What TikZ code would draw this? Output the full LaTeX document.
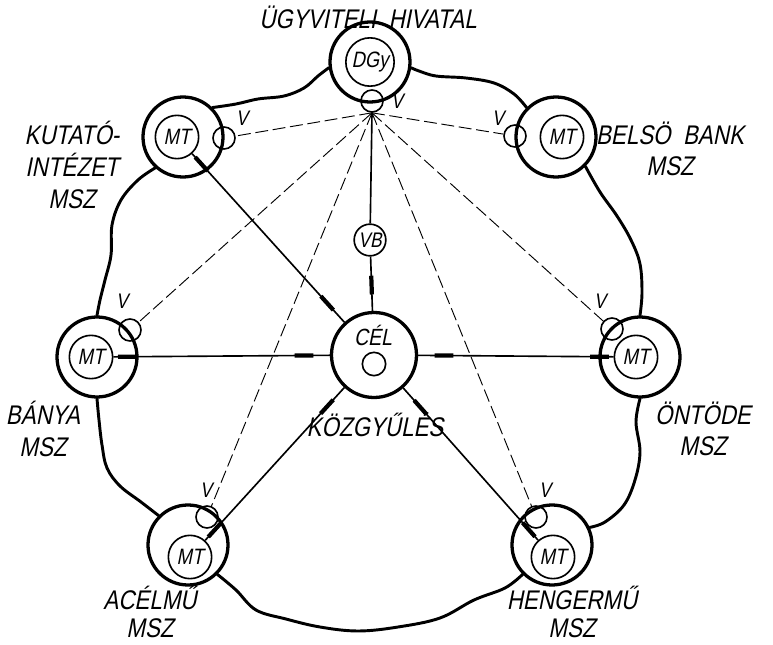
\documentclass[tikz,border=0pt]{standalone}
\usepackage{fontspec}
\newfontfamily\lettering[FakeSlant=0.2, FakeStretch=0.83]{Liberation Sans}
\usetikzlibrary{decorations.markings}

\begin{document}
\begin{tikzpicture}[
    x=0.03cm, y=-0.03cm,
    plant/.style={draw, circle, line width=2.8pt, minimum size=2.4cm, inner sep=0pt},
    core/.style={draw, circle, line width=1.4pt, minimum size=1.3cm, inner sep=0pt, font=\lettering\fontsize{19}{22}\selectfont},
    valve/.style={draw, circle, line width=1.4pt, minimum size=0.66cm, inner sep=0pt},
    tag/.style={font=\lettering\fontsize{18}{20}\selectfont, inner sep=0pt},
    caption/.style={font=\lettering\fontsize{23}{27}\selectfont, align=center, inner sep=0pt},
    border/.style={line width=2.5pt, line cap=round, line join=round},
    link/.style={line width=1.4pt},
    control/.style={dash pattern=on 11pt off 4pt, line width=0.8pt},
    bothmarks/.style={postaction={decorate, decoration={markings,
        mark=at position 4pt with {\draw[line width=3.6pt] (0,0) -- (16pt,0);},
        mark=at position -30pt with {\draw[line width=3.6pt] (0,0) -- (16pt,0);}}}},
    endmark/.style={postaction={decorate, decoration={markings,
        mark=at position -30pt with {\draw[line width=3.6pt] (0,0) -- (16pt,0);}}}},
]
    \useasboundingbox (0,0) rectangle (773,645);

    % Units
    \node[plant] (dgy) at (370,62) {};
    \node[plant] (kut) at (183,137) {};
    \node[plant] (bel) at (556,137) {};
    \node[plant] (ban) at (97,357) {};
    \node[plant] (ont) at (640,357) {};
    \node[plant] (ace) at (188,545) {};
    \node[plant] (hen) at (552,545) {};
    \node[plant, minimum size=2.55cm] (cel) at (374,355) {};

    \node[core, minimum size=1.45cm] (dgyin) at (370,62) {DGy};
    \node[core] (kutin) at (177,137) {MT};
    \node[core] (belin) at (562,137) {MT};
    \node[core] (banin) at (91,357) {MT};
    \node[core] (ontin) at (636,357) {MT};
    \node[core] (acein) at (190,557) {MT};
    \node[core] (henin) at (553,557) {MT};
    \node[valve, minimum size=0.7cm] (celin) at (374,364) {};
    \node[tag, font=\lettering\fontsize{20}{22}\selectfont] (celtext) at (373,335) {CÉL};
    \node[valve, minimum size=0.95cm, font=\lettering\fontsize{18}{20}\selectfont] (vb) at (370,240) {VB};

    % Valves
    \node[valve] (vdgy) at (372,101) {};
    \node[valve] (vkut) at (224,138) {};
    \node[valve] (vbel) at (515,136) {};
    \node[valve] (vban) at (130,330) {};
    \node[valve] (vont) at (612,329) {};
    \node[valve] (vace) at (207,517) {};
    \node[valve] (vhen) at (536,517) {};
    \coordinate (hub) at (vdgy.south);

    \node[tag] (ldgy) at (397,101) {V};
    \node[tag] (lkut) at (242,118) {V};
    \node[tag] (lbel) at (498,118) {V};
    \node[tag] (lban) at (122,301) {V};
    \node[tag] (lont) at (600,301) {V};
    \node[tag] (lace) at (206,490) {V};
    \node[tag] (lhen) at (545,490) {V};

    % Boundary
    \draw[border] plot[smooth, tension=0.6] coordinates {(dgy.188) (318,76) (304,88) (284,96) (258,99) (236,104) (kut.45)};
    \draw[border] plot[smooth, tension=0.6] coordinates {(kut.228) (138,180) (121,200) (112,225) (111,255) (105,280) (100,300) (ban.90)};
    \draw[border] plot[smooth, tension=0.6] coordinates {(ban.270) (99,420) (102,445) (107,468) (120,486) (141,502) (ace.135)};
    \draw[border] plot[smooth, tension=0.6] coordinates {(ace.315) (236,590) (256,610) (286,619) (320,627) (358,631) (398,627) (440,618) (474,600) (505,588) (hen.225)};
    \draw[border] plot[smooth, tension=0.6] coordinates {(hen.25) (605,522) (624,505) (635,480) (640,452) (636,422) (ont.270)};
    \draw[border] plot[smooth, tension=0.6] coordinates {(ont.90) (642,293) (640,264) (631,240) (617,216) (600,192) (bel.315)};
    \draw[border] plot[smooth, tension=0.6] coordinates {(bel.135) (514,94) (494,83) (466,78) (436,76) (419,71) (dgy.352)};

    % Control lines
    \draw[control] (hub) -- (vkut);
    \draw[control] (hub) -- (vbel);
    \draw[control] (hub) -- (vban);
    \draw[control] (hub) -- (vont);
    \draw[control] (hub) -- (vace);
    \draw[control] (hub) -- (vhen);

    % Links
    \draw[link] (hub) -- (vb);
    \draw[link, endmark] (vb) -- (cel);
    \draw[link, bothmarks] (kutin) -- (cel);
    \draw[link, bothmarks] (banin) -- (cel);
    \draw[link, bothmarks] (ontin) -- (cel);
    \draw[link, bothmarks] (acein) -- (cel);
    \draw[link, bothmarks] (henin) -- (cel);

    % Labels
    \node[caption] (title) at (368,17) {ÜGYVITELI\ \ HIVATAL};
    \node[caption] (kutlabel) at (72,165) {KUTATÓ-\\INTÉZET\\MSZ};
    \node[caption] (bellabel) at (670,149) {BELSÖ\ \ BANK\\MSZ};
    \node[caption] (banlabel) at (43,429) {BÁNYA\\MSZ};
    \node[caption] (ontlabel) at (703,429) {ÖNTÖDE\\MSZ};
    \node[caption] (kozlabel) at (375,425) {KÖZGYŰLÉS};
    \node[caption, font=\lettering\fontsize{23}{24}\selectfont] (acelabel) at (150,612) {ACÉLMŰ\\MSZ};
    \node[caption, font=\lettering\fontsize{23}{24}\selectfont] (henlabel) at (572,612) {HENGERMŰ\\MSZ};

\end{tikzpicture}
\end{document}
